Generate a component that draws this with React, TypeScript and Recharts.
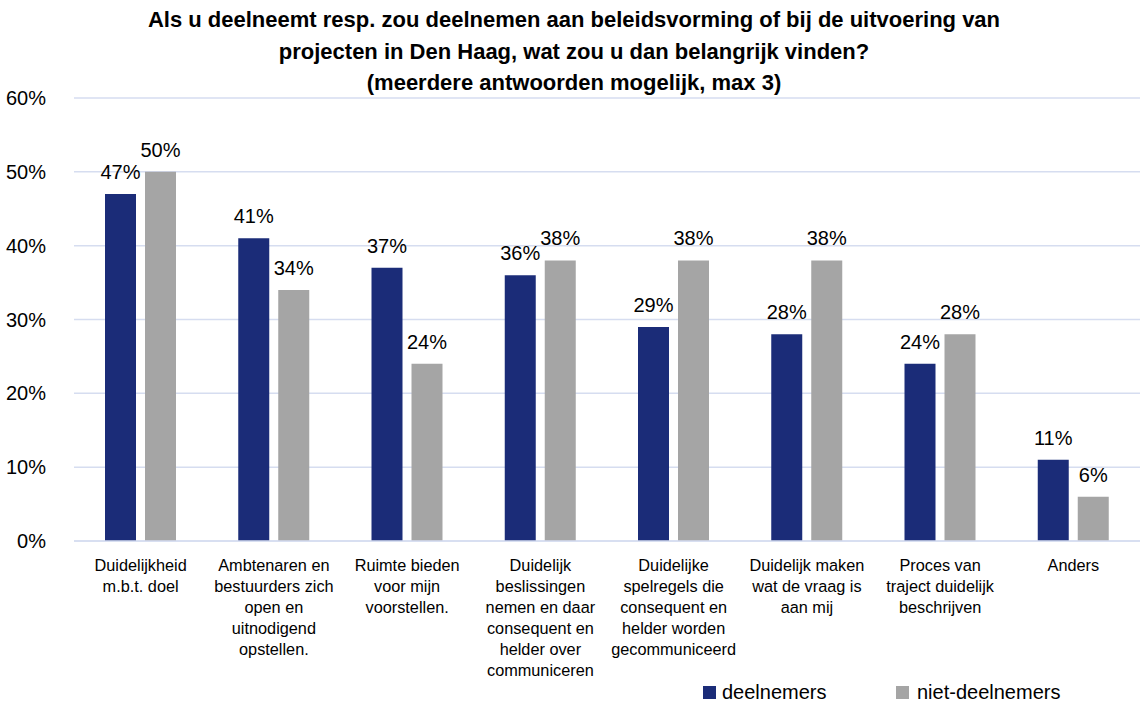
import React from "react";
import { BarChart, Bar, XAxis, YAxis, CartesianGrid, LabelList } from "recharts";

const categories = [
  "Duidelijkheid m.b.t. doel",
  "Ambtenaren en bestuurders zich open en uitnodigend opstellen.",
  "Ruimte bieden voor mijn voorstellen.",
  "Duidelijk beslissingen nemen en daar consequent en helder over communiceren",
  "Duidelijke spelregels die consequent en helder worden gecommuniceerd",
  "Duidelijk maken wat de vraag is aan mij",
  "Proces van traject duidelijk beschrijven",
  "Anders",
];

const tickLines = [
  ["Duidelijkheid", "m.b.t. doel"],
  ["Ambtenaren en", "bestuurders zich", "open en", "uitnodigend", "opstellen."],
  ["Ruimte bieden", "voor mijn", "voorstellen."],
  ["Duidelijk", "beslissingen", "nemen en daar", "consequent en", "helder over", "communiceren"],
  ["Duidelijke", "spelregels die", "consequent en", "helder worden", "gecommuniceerd"],
  ["Duidelijk maken", "wat de vraag is", "aan mij"],
  ["Proces van", "traject duidelijk", "beschrijven"],
  ["Anders"],
];

const deelnemers = [47, 41, 37, 36, 29, 28, 24, 11];
const nietDeelnemers = [50, 34, 24, 38, 38, 38, 28, 6];
const yTicks = [0, 10, 20, 30, 40, 50, 60];
const seriesNames = ["deelnemers", "niet-deelnemers"];

const titleLines = [
  "Als u deelneemt resp. zou deelnemen aan beleidsvorming of bij de uitvoering van",
  "projecten in Den Haag, wat zou u dan belangrijk vinden?",
  "(meerdere antwoorden mogelijk, max 3)",
];

const data = categories.map((c, i) => ({
  name: c,
  deelnemers: deelnemers[i],
  niet: nietDeelnemers[i],
}));

const FONT = "'Liberation Sans', Arial, sans-serif";
const NAVY = "#1b2c78";
const GRAY = "#a5a5a5";
const GRID = "#d6ddf0";

const CatTick = (props: any) => {
  const { x, y, payload } = props;
  const idx = categories.indexOf(payload.value);
  const lines = tickLines[idx] || [payload.value];
  return (
    <g transform={`translate(${x},${y})`}>
      <text textAnchor="middle" fontFamily={FONT} fontSize={16.3} fill="#000">
        {lines.map((l, i) => (
          <tspan key={i} x={0} y={22 + i * 21}>
            {l}
          </tspan>
        ))}
      </text>
    </g>
  );
};

export default function App() {
  return (
    <div style={{ position: "absolute", left: 0, top: 0, width: 1148, height: 704, background: "#fff" }}>
      <div
        style={{
          position: "absolute",
          left: 0,
          top: 4,
          width: 1148,
          textAlign: "center",
          fontFamily: FONT,
          fontWeight: "bold",
          fontSize: 22,
          lineHeight: "31.5px",
          color: "#000",
          zIndex: 2,
        }}
      >
        {titleLines.map((t, i) => (
          <div key={i}>{t}</div>
        ))}
      </div>
      <BarChart
        width={1148}
        height={704}
        data={data}
        margin={{ top: 98, right: 8, bottom: 0, left: 0 }}
        barGap={9}
        barSize={31}
      >
        <CartesianGrid vertical={false} stroke={GRID} strokeWidth={1.5} />
        <XAxis
          dataKey="name"
          interval={0}
          tick={<CatTick />}
          tickLine={false}
          axisLine={{ stroke: GRID, strokeWidth: 1.5 }}
          height={163}
        />
        <YAxis
          domain={[0, 60]}
          ticks={yTicks}
          tickFormatter={(v: number) => `${v}%`}
          tickLine={false}
          axisLine={false}
          width={74}
          tickMargin={22}
          tick={{ fontFamily: FONT, fontSize: 20, fill: "#000" }}
        />
        <Bar dataKey="deelnemers" name={seriesNames[0]} fill={NAVY} isAnimationActive={false}>
          <LabelList
            dataKey="deelnemers"
            position="top"
            offset={15}
            formatter={(v: any) => `${v}%`}
            style={{ fontFamily: FONT, fontSize: 20, fill: "#000" }}
          />
        </Bar>
        <Bar dataKey="niet" name={seriesNames[1]} fill={GRAY} isAnimationActive={false}>
          <LabelList
            dataKey="niet"
            position="top"
            offset={15}
            formatter={(v: any) => `${v}%`}
            style={{ fontFamily: FONT, fontSize: 20, fill: "#000" }}
          />
        </Bar>
      </BarChart>
      <div
        style={{
          position: "absolute",
          left: 703,
          top: 679,
          display: "flex",
          fontFamily: FONT,
          fontSize: 20,
          lineHeight: "26px",
          color: "#000",
        }}
      >
        <div style={{ display: "flex", alignItems: "center", width: 193 }}>
          <span style={{ display: "inline-block", width: 13, height: 13, background: NAVY, marginRight: 6 }} />
          {seriesNames[0]}
        </div>
        <div style={{ display: "flex", alignItems: "center" }}>
          <span style={{ display: "inline-block", width: 13, height: 13, background: GRAY, marginRight: 8 }} />
          {seriesNames[1]}
        </div>
      </div>
    </div>
  );
}
